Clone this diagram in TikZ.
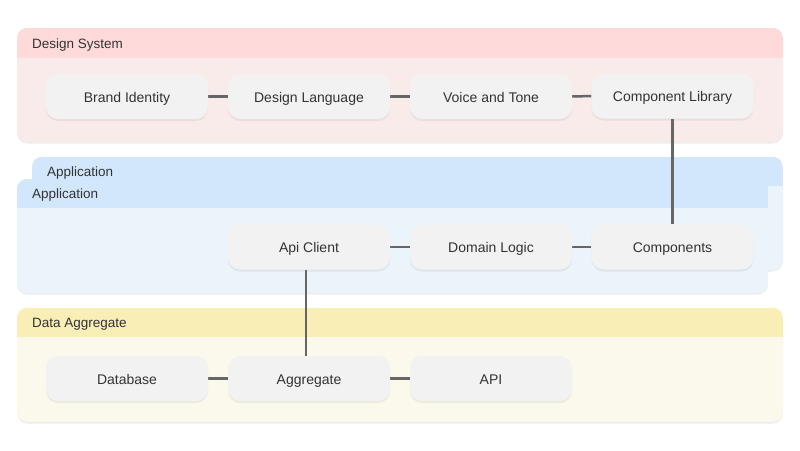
\documentclass[tikz,border=0pt]{standalone}
\usepackage{fontspec}
\setmainfont{Liberation Sans}
\usetikzlibrary{shadows}
\definecolor{dshdr}{HTML}{FFDADA}
\definecolor{dsbody}{HTML}{FAEBEB}
\definecolor{aphdr}{HTML}{D2E7FC}
\definecolor{apbody}{HTML}{EBF3FB}
\definecolor{dahdr}{HTML}{F8EEB6}
\definecolor{dabody}{HTML}{FAF9EB}
\definecolor{nodefill}{HTML}{F2F2F2}
\definecolor{txt}{HTML}{333333}
\definecolor{linec}{HTML}{666666}
\pgfdeclarelayer{bg}
\pgfdeclarelayer{mid}
\pgfsetlayers{bg,mid,main}
\newcommand{\mycont}[7]{%
  \fill[black!7, rounded corners=10pt] (#1,#2+1.5) rectangle (#3,#4+1.5);
  \begin{scope}
    \clip[rounded corners=10pt] (#1,#2) rectangle (#3,#4);
    \fill[#7] (#1,#2) rectangle (#3,#4);
    \fill[#6] (#1,#2) rectangle (#3,#5);
  \end{scope}}
\tikzset{
  box/.style={rectangle, rounded corners=12pt, fill=nodefill, minimum width=162pt,
    minimum height=45pt, text=txt, font=\fontsize{14}{16}\selectfont, inner sep=0pt,
    text height=13pt, text depth=2pt,
    drop shadow={opacity=0.12, shadow xshift=0pt, shadow yshift=-2pt}},
  title/.style={anchor=west, text=txt, font=\fontsize{13.5}{15}\selectfont, inner sep=0pt,
    text height=11pt, text depth=1.5pt},
  conn/.style={draw=linec, line width=2.5pt}
}
\begin{document}
\begin{tikzpicture}[x=1pt,y=-1pt]
\useasboundingbox (0,0) rectangle (800,450);
\begin{pgfonlayer}{bg}
  \fill[white] (0,0) rectangle (800,450);
  \mycont{17}{28}{783}{142}{58}{dshdr}{dsbody}
  \mycont{32}{157}{783}{270}{186}{aphdr}{apbody}
  \mycont{17}{179}{768}{293}{208}{aphdr}{apbody}
  \mycont{17}{308}{783}{422}{337}{dahdr}{dabody}
\end{pgfonlayer}
\node[title] (tds) at (32,43.5) {Design System};
\node[title] (tap2) at (47,172) {Application};
\node[title] (tap) at (32,194) {Application};
\node[title] (tda) at (32,323) {Data Aggregate};

\node[box] (brand) at (127,96.5) {Brand Identity};
\node[box] (design) at (309,96.5) {Design Language};
\node[box] (voice) at (491,96.5) {Voice and Tone};
\node[box] (complib) at (672.5,96) {Component Library};
\node[box] (apiclient) at (309,247) {Api Client};
\node[box] (domain) at (491,247) {Domain Logic};
\node[box] (components) at (672.5,247) {Components};
\node[box] (database) at (127,378.5) {Database};
\node[box] (aggregate) at (309,378.5) {Aggregate};
\node[box] (api) at (491,378.5) {API};

\begin{pgfonlayer}{mid}
  \draw[conn] (brand) -- (design);
  \draw[conn] (design) -- (voice);
  \draw[conn] (voice) -- (complib);
  \draw[conn] (complib.south) -- (components.north);
  \draw[conn] (apiclient) -- (domain);
  \draw[conn] (domain) -- (components);
  \draw[conn] ([xshift=-3pt]apiclient.south) -- ([xshift=-3pt]aggregate.north);
  \draw[conn] (database) -- (aggregate);
  \draw[conn] (aggregate) -- (api);
\end{pgfonlayer}
\end{tikzpicture}
\end{document}
